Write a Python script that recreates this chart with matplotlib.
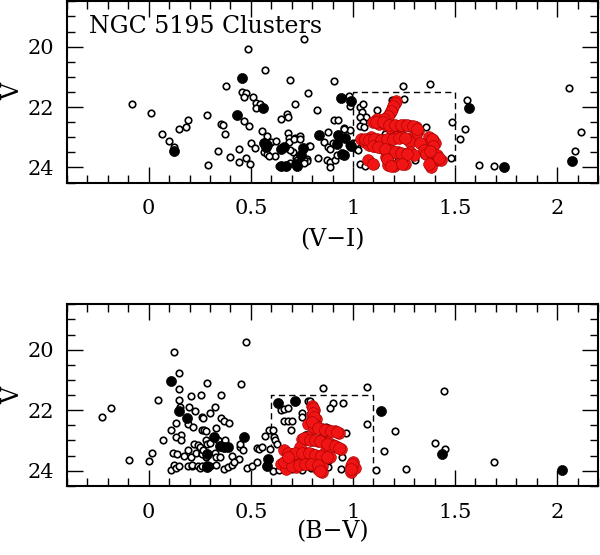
""" colour-magnitude diagrams of the NGC 5195 clusters """

import numpy
import matplotlib
matplotlib.use("Agg")
import matplotlib.pyplot
import matplotlib.ticker

OUTPUT = "out.png"

# ---- top panel: V vs (V-I) ----
vi_open = numpy.array([
    -0.08, 0.01, 0.064, 0.10, 0.126, 0.15, 0.184, 0.194, 0.283, 0.288, 0.339, 0.355, 0.362, 0.373,
    0.38, 0.487, 0.57, 0.69, 0.459, 0.477, 0.467, 0.51, 0.524, 0.544, 0.524, 0.465, 0.49, 0.557,
    0.579, 0.50, 0.52, 0.442, 0.40, 0.44, 0.475, 0.498, 0.565, 0.58, 0.60, 0.625, 0.62, 0.59,
    0.65, 0.676, 0.68, 0.717, 0.684, 0.685, 0.718, 0.74, 0.705, 0.69, 0.72, 0.64, 0.69, 0.725,
    0.73, 0.775, 0.775, 0.787, 0.908, 0.78, 0.76, 0.825, 0.908, 0.927, 0.957, 0.985, 0.878, 0.955,
    0.858, 0.88, 0.79, 0.957, 0.886, 0.90, 0.83, 0.873, 0.886, 0.89, 0.91, 0.92, 0.76, 0.76,
    0.98, 0.985, 0.98, 1.0, 1.01, 0.685, 0.713, 0.74, 0.754,
    1.034, 1.05, 1.043, 1.064, 1.037, 1.05, 1.034, 1.054, 1.018, 1.018, 1.013, 1.026, 1.034, 1.06,
    1.11, 1.155, 1.157, 1.12, 1.19, 1.248, 1.245, 1.375, 1.358, 1.27, 1.28, 1.32, 1.305, 1.347,
    1.236, 1.22, 1.24, 1.33, 1.486, 1.55, 1.524, 1.48, 1.557, 1.615, 1.69, 2.06, 2.116, 2.088])
v_open_top = numpy.array([
    21.91, 22.2, 22.9, 23.11, 23.33, 22.74, 22.67, 22.42, 22.27, 23.93, 23.45, 22.55, 22.6, 22.9,
    21.29, 20.08, 20.78, 21.1, 21.51, 21.53, 21.66, 21.66, 21.88, 21.9, 22.04, 22.46, 22.64, 22.8,
    22.96, 23.18, 23.36, 23.4, 23.65, 23.83, 23.69, 23.87, 23.48, 23.54, 23.14, 23.11, 23.61, 23.63,
    22.41, 22.23, 22.33, 21.9, 22.86, 23.01, 23.02, 22.97, 23.49, 23.42, 23.7, 23.95, 23.85, 23.74,
    23.85, 23.72, 23.8, 23.3, 21.12, 21.53, 19.75, 22.09, 22.42, 22.42, 22.7, 22.75, 22.83, 22.72,
    23.15, 23.32, 23.29, 23.02, 23.38, 23.19, 23.68, 23.74, 23.82, 23.98, 23.76, 23.6, 23.75, 23.85,
    21.63, 21.95, 23.27, 23.2, 23.35, 23.17, 23.05, 23.05, 23.42,
    22.0, 21.91, 22.17, 22.33, 22.33, 22.5, 22.64, 22.66, 23.38, 23.27, 23.19, 23.41, 23.9, 23.96,
    23.92, 22.99, 22.88, 22.1, 21.78, 21.73, 21.29, 21.25, 22.66, 23.0, 23.1, 23.1, 23.74, 23.6,
    23.9, 23.65, 23.63, 23.23, 22.5, 22.72, 23.05, 23.67, 21.76, 23.93, 23.96, 21.38, 22.83, 23.45])

vi_filled = numpy.array([
    0.126, 0.455, 0.43, 0.56, 0.565, 0.574, 0.58, 0.664, 0.65, 0.65, 0.672, 0.723, 0.726, 0.754,
    0.832, 0.927, 0.96, 0.92, 0.944, 0.955, 0.99, 0.94, 0.99, 0.746, 1.568, 1.74, 2.075])
v_filled_top = numpy.array([
    23.45, 21.03, 22.25, 22.02, 23.2, 23.32, 23.27, 23.33, 23.4, 23.95, 23.95, 23.9, 23.96, 23.35,
    22.92, 22.91, 23.01, 23.23, 23.56, 23.6, 23.3, 21.7, 21.8, 23.6, 22.04, 23.98, 23.8])

vi_red = numpy.array([
    1.21, 1.20, 1.19, 1.18, 1.16, 1.14, 1.12, 1.10, 1.13, 1.16, 1.19, 1.22, 1.25, 1.28, 1.31, 1.32,
    1.31, 1.19, 1.21, 1.24,
    1.04, 1.06, 1.09, 1.12, 1.15, 1.18, 1.21, 1.24, 1.27, 1.28, 1.37, 1.39, 1.40, 1.36, 1.33,
    1.08, 1.11, 1.14, 1.17, 1.19, 1.22, 1.25, 1.28, 1.30,
    1.16, 1.17, 1.17, 1.20, 1.075, 1.256, 1.35, 1.36, 1.39, 1.41, 1.43, 1.38, 1.37, 1.10, 1.23,
    1.205, 1.195, 1.185, 1.17, 1.15, 1.115, 1.145, 1.175, 1.205, 1.235, 1.265, 1.295, 1.315,
    1.06, 1.08, 1.105, 1.135, 1.165, 1.195, 1.225, 1.255, 1.385, 1.39, 1.10, 1.125, 1.155,
    1.205, 1.235, 1.265, 1.165, 1.41, 1.42, 1.375, 1.185, 1.24])
v_red_top = numpy.array([
    21.8, 21.9, 22.05, 22.2, 22.35, 22.45, 22.4, 22.5, 22.55, 22.6, 22.6, 22.62, 22.6, 22.62, 22.65, 22.8,
    22.9, 22.77, 23.0, 23.0,
    23.05, 23.15, 23.0, 23.05, 23.1, 23.05, 23.0, 23.0, 23.05, 23.15, 23.0, 23.1, 23.2, 23.25, 23.2,
    23.25, 23.3, 23.35, 23.4, 23.45, 23.5, 23.55, 23.5, 23.6,
    23.65, 23.8, 23.93, 23.96, 23.76, 23.87, 23.43, 23.55, 23.65, 23.75, 23.76, 23.98, 23.9, 23.88, 23.85,
    21.85, 21.98, 22.12, 22.28, 22.4, 22.48, 22.5, 22.58, 22.6, 22.6, 22.6, 22.62, 22.72,
    23.05, 23.1, 23.05, 23.08, 23.05, 23.05, 23.02, 23.02, 23.05, 23.3, 23.28, 23.32, 23.38,
    23.48, 23.52, 23.55, 23.72, 23.6, 23.7, 23.45, 23.95, 23.9])

# ---- bottom panel: V vs (B-V) ----
bv_open = numpy.array([
    0.126, 0.146, 0.15, 0.044, 0.15, 0.153, 0.209, 0.258, 0.197, 0.227, 0.26, 0.19, 0.218, 0.133,
    0.107, 0.16, 0.136, 0.156, 0.07, 0.26, 0.28, 0.22, 0.24, 0.25, 0.19, 0.173, 0.205, 0.23, 0.26,
    0.118, 0.138, 0.018, 0.0, -0.096, -0.185, -0.23, 0.107, 0.123, 0.136, 0.15, 0.19, 0.21, 0.21,
    0.24, 0.25, 0.28,
    0.475, 0.286, 0.45, 0.355, 0.30, 0.327, 0.266, 0.352, 0.368, 0.393, 0.27, 0.28, 0.33, 0.285,
    0.30, 0.35, 0.34, 0.375, 0.26, 0.265, 0.327, 0.33, 0.35, 0.26, 0.30, 0.33, 0.37, 0.39, 0.41,
    0.41, 0.44, 0.42, 0.447, 0.46, 0.447, 0.483, 0.508, 0.53, 0.54, 0.557, 0.53, 0.57, 0.59, 0.61,
    0.615, 0.607, 0.595, 0.648, 0.664, 0.684, 0.66, 0.68, 0.70, 0.697, 0.75, 0.78,
    0.853, 1.07, 0.79, 0.90, 0.89, 0.95, 0.75, 1.067, 1.207, 0.965, 1.154, 0.944, 0.878, 0.795,
    0.878, 0.94, 1.113, 1.26, 0.87, 1.447, 1.40, 1.453, 1.69, 0.62, 0.63, 0.68, 0.64, 0.70, 0.75])
v_open_bot = numpy.array([
    20.06, 20.77, 21.29, 21.66, 21.66, 21.9, 21.54, 21.51, 21.88, 22.04, 22.24, 22.47, 22.56, 22.42,
    22.64, 22.81, 22.89, 23.0, 22.98, 22.67, 23.0, 23.1, 23.15, 23.2, 23.33, 23.5, 23.56, 23.4, 23.4,
    23.4, 23.46, 23.4, 23.69, 23.66, 21.92, 22.21, 23.97, 23.8, 23.92, 23.85, 23.86, 23.86, 23.8,
    23.85, 23.9, 23.55,
    19.75, 21.1, 21.13, 21.51, 22.09, 21.9, 22.25, 22.25, 22.34, 22.43, 22.67, 22.7, 22.6, 23.1,
    23.08, 23.17, 23.0, 23.0, 23.45, 23.3, 23.42, 23.55, 23.55, 23.86, 23.86, 23.82, 23.95, 23.88, 23.82,
    23.5, 23.62, 23.7, 23.2, 23.3, 23.12, 23.9, 23.84, 23.24, 23.28, 23.22, 23.72, 22.84, 22.67, 22.67,
    22.89, 24.0, 23.28, 21.99, 21.95, 21.93, 22.34, 22.34, 22.34, 22.67, 22.1, 21.7,
    21.27, 21.24, 21.71, 21.77, 21.93, 21.77, 22.23, 22.47, 22.7, 22.76, 23.36, 23.56, 23.67, 23.92,
    23.89, 23.95, 23.97, 23.95, 22.55, 21.37, 23.09, 23.27, 23.72, 23.0, 23.1, 23.6, 23.96, 23.95, 23.97])

bv_filled = numpy.array([
    0.107, 0.148, 0.186, 0.286, 0.286, 0.286, 0.32, 0.35, 0.37, 0.39, 0.467, 0.582, 0.577, 0.635,
    0.717, 0.77, 1.136, 1.434, 2.026])
v_filled_bot = numpy.array([
    21.05, 22.03, 22.25, 23.89, 23.44, 23.83, 22.89, 23.17, 23.22, 23.22, 22.89, 23.6, 23.86, 21.77,
    21.7, 22.84, 22.04, 23.44, 23.97])

bv_red = numpy.array([
    0.80, 0.81, 0.80, 0.82, 0.78, 0.82, 0.81, 0.85, 0.88, 0.91, 0.93, 0.77, 0.80, 0.83, 0.85, 0.90,
    0.92, 0.94, 0.75, 0.78, 0.66, 0.70, 0.73, 0.77, 0.80, 0.83, 0.86, 0.89, 0.648, 0.72, 0.75, 0.78,
    0.81, 0.85, 0.85, 0.83, 1.0, 0.99, 0.99, 1.01, 0.69, 0.74, 0.87, 0.88, 0.74, 0.67,
    0.805, 0.805, 0.81, 0.80, 0.83, 0.865, 0.895, 0.92, 0.76, 0.79, 0.815, 0.84, 0.875, 0.91, 0.93,
    0.68, 0.715, 0.75, 0.785, 0.815, 0.845, 0.875, 0.66, 0.70, 0.735, 0.765, 0.795, 0.83, 0.84,
    0.995, 0.99, 0.68])
v_red_bot = numpy.array([
    21.85, 22.0, 22.15, 22.3, 22.45, 22.5, 22.6, 22.62, 22.65, 22.7, 22.75, 22.95, 23.0, 23.02, 23.0, 23.15,
    23.2, 23.28, 22.95, 22.9, 23.33, 23.44, 23.4, 23.42, 23.45, 23.5, 23.5, 23.56, 23.77, 23.89, 23.78, 23.77,
    23.8, 23.83, 24.05, 23.95, 23.72, 23.85, 24.05, 23.9, 23.6, 23.62, 23.3, 23.05, 23.2, 23.95,
    21.92, 22.08, 22.22, 22.38, 22.58, 22.64, 22.68, 22.72, 22.92, 22.98, 23.0, 23.02, 23.1, 23.18, 23.25,
    23.4, 23.42, 23.42, 23.43, 23.48, 23.5, 23.53, 23.7, 23.85, 23.82, 23.78, 23.78, 23.82, 24.0,
    23.78, 23.95, 23.55])

# selection boxes (colour range, V range)
BOX_TOP = ([1.0, 1.5], [21.5, 24.0])
BOX_BOT = ([0.6, 1.1], [21.5, 24.0])

FONT = "DejaVu Serif"


def style_axes(ax):
    ax.set_xlim(-0.4, 2.2)
    ax.set_ylim(24.5, 18.5)
    ax.xaxis.set_major_locator(matplotlib.ticker.MultipleLocator(0.5))
    ax.xaxis.set_minor_locator(matplotlib.ticker.MultipleLocator(0.1))
    ax.yaxis.set_major_locator(matplotlib.ticker.MultipleLocator(2))
    ax.yaxis.set_minor_locator(matplotlib.ticker.MultipleLocator(0.5))
    ax.xaxis.set_major_formatter(matplotlib.ticker.FuncFormatter(lambda v, p: "{:g}".format(v)))
    ax.tick_params(which="both", direction="in", top=True, right=True, width=1.0, labelsize=15)
    ax.tick_params(which="major", length=11.5, pad=9)
    ax.tick_params(which="minor", length=5.5)
    ax.tick_params(axis="x", pad=12)
    for sp in ax.spines.values():
        sp.set_linewidth(1.5)
    for lab in ax.get_xticklabels() + ax.get_yticklabels():
        lab.set_family(FONT)


def draw_panel(ax, xo, yo, xf, yf, xr, yr, box):
    ax.scatter(xo, yo, s=22, facecolor="white", edgecolor="black", linewidth=1.2, zorder=2)
    ax.scatter(xf, yf, s=52, facecolor="black", edgecolor="black", linewidth=0.5, zorder=3)
    ax.scatter(xr, yr, s=72, facecolor="#f01414", edgecolor="#a00000", linewidth=0.4, zorder=4)
    (x0, x1), (y0, y1) = box
    ax.plot([x0, x0, x1, x1], [y1, y0, y0, y1], linestyle=(0, (4.5, 3)), color="black",
            linewidth=1.0, zorder=1)
    style_axes(ax)


def plot_cmd():
    fig = matplotlib.pyplot.figure(figsize=(6.0, 5.55), dpi=100)
    ax0 = fig.add_axes([0.1117, 0.671, 0.885, 0.3265])
    ax1 = fig.add_axes([0.1117, 0.1246, 0.885, 0.327])

    draw_panel(ax0, vi_open, v_open_top, vi_filled, v_filled_top, vi_red, v_red_top, BOX_TOP)
    draw_panel(ax1, bv_open, v_open_bot, bv_filled, v_filled_bot, bv_red, v_red_bot, BOX_BOT)

    ax0.text(0.041, 0.825, "NGC 5195 Clusters", transform=ax0.transAxes, fontsize=17,
             family=FONT, ha="left", va="baseline")

    fig.text(1.5 / 600, 1 - 91.5 / 555, "V", rotation=90, ha="left", va="center", fontsize=17, family=FONT)
    fig.text(1.5 / 600, 1 - 395 / 555, "V", rotation=90, ha="left", va="center", fontsize=17, family=FONT)
    fig.text(332 / 600, 1 - 240 / 555, "(V\u2212I)", ha="center", va="center", fontsize=17, family=FONT)
    fig.text(332 / 600, 1 - 532 / 555, "(B\u2212V)", ha="center", va="center", fontsize=17, family=FONT)

    fig.savefig(OUTPUT, dpi=100)
    matplotlib.pyplot.close(fig)


if __name__ == "__main__":
    plot_cmd()
